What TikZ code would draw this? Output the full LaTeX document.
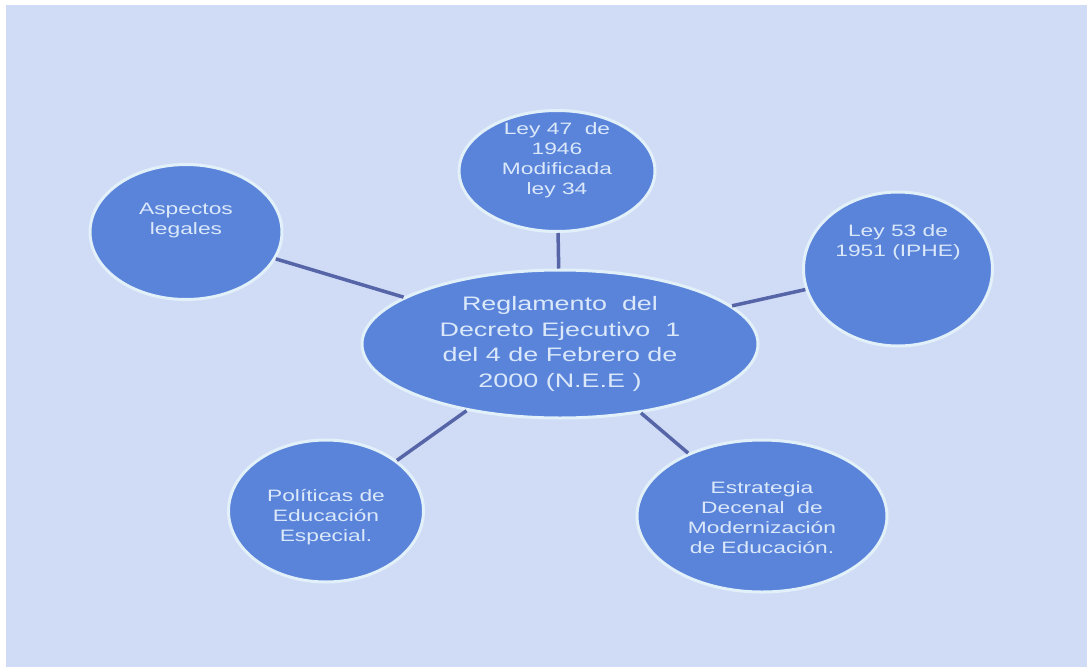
\documentclass[tikz,border=0pt]{standalone}
\usepackage{fontspec}
\newfontfamily\bubblefont[FakeStretch=1.38]{Liberation Sans}
\usepackage{tikz}
\usetikzlibrary{shapes.geometric,positioning}
\definecolor{paperBlue}{RGB}{208,220,245}
\definecolor{bubbleBlue}{RGB}{90,132,218}
\definecolor{rimWhite}{RGB}{226,240,250}
\definecolor{linkBlue}{RGB}{86,100,168}
\definecolor{inkWhite}{RGB}{218,232,250}

\begin{document}
\begin{tikzpicture}[x=1pt,y=-1pt,
    bubble/.style={ellipse,draw=rimWhite,line width=3pt,fill=bubbleBlue,inner sep=0pt},
    bubbletext/.style={align=center,text=inkWhite,font=\bubblefont\fontsize{16.5}{20}\selectfont},
    maintext/.style={align=center,text=inkWhite,font=\bubblefont\fontsize{19.5}{25.5}\selectfont},
    link/.style={draw=linkBlue,line width=3.5pt}]
  % Page and background
  \useasboundingbox (0,0) rectangle (1087,667);
  \fill[white] (0,0) rectangle (1087,667);
  \fill[paperBlue] (6,5) rectangle (1087,667);
  % Central ellipse
  \node[bubble,minimum width=396pt,minimum height=148pt] (main) at (560,344) {};
  \node[maintext] at (main) {Reglamento\ \ del\\Decreto Ejecutivo\ \ 1\\del 4 de Febrero de\\2000 (N.E.E )};
  % Outer bubbles
  \node[bubble,minimum width=192pt,minimum height=135pt] (legal) at (186,232) {};
  \node[bubbletext,yshift=11pt] at (legal) {Aspectos\\legales};
  \node[bubble,minimum width=196pt,minimum height=121pt] (ley47) at (557,171) {};
  \node[bubbletext,yshift=11pt] at (ley47) {Ley 47\ \ de\\1946\\Modificada\\ley 34};
  \node[bubble,minimum width=189pt,minimum height=154pt] (ley53) at (898,269) {};
  \node[bubbletext,yshift=27pt] at (ley53) {Ley 53 de\\1951 (IPHE)};
  \node[bubble,minimum width=195pt,minimum height=142pt] (politicas) at (326,511) {};
  \node[bubbletext,yshift=-6pt] at (politicas) {Políticas de\\Educación\\Especial.};
  \node[bubble,minimum width=250pt,minimum height=152pt] (estrategia) at (762,516) {};
  \node[bubbletext,yshift=-2pt] at (estrategia) {Estrategia\\Decenal\ \ de\\Modernización\\de Educación.};
  % Connectors
  \draw[link] (legal) -- (main);
  \draw[link] (ley47) -- (main);
  \draw[link] (ley53) -- (main);
  \draw[link] (politicas) -- (main);
  \draw[link] (estrategia) -- (main);
\end{tikzpicture}
\end{document}
